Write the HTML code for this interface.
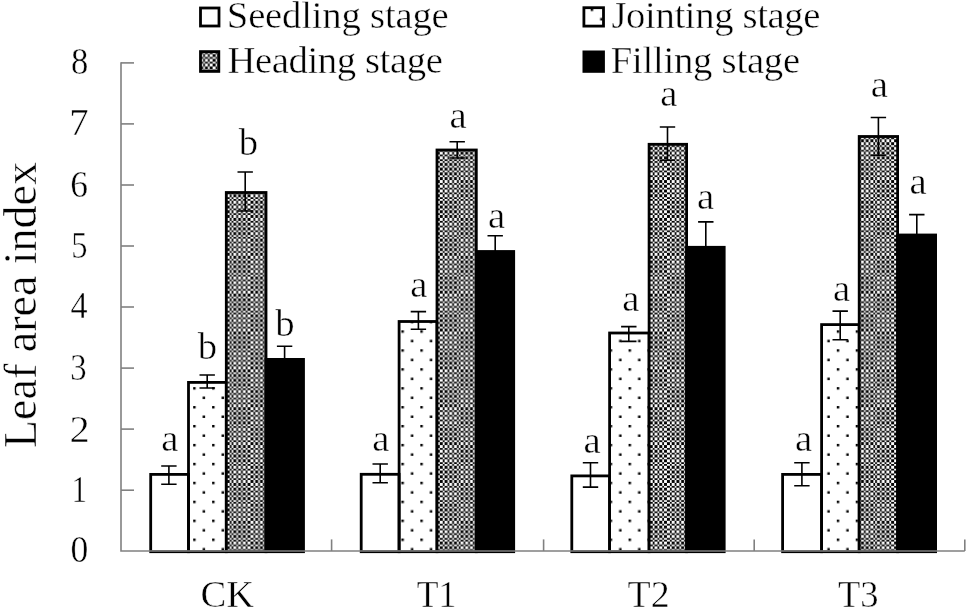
<!DOCTYPE html><html><head><meta charset="utf-8"><title>Leaf area index</title><style>
html,body{margin:0;padding:0;background:#fff;width:967px;height:610px;overflow:hidden}
svg{display:block;filter:blur(0.3px)}
text{font-family:"Liberation Serif","Times New Roman",serif;fill:#000;stroke:#fff;stroke-width:0.45px}
</style></head><body>
<svg width="967" height="610" viewBox="0 0 967 610">
<defs>
<pattern id="dots" patternUnits="userSpaceOnUse" x="3.88" y="8.52" width="18.93" height="18.93"><rect x="0" y="0" width="2.45" height="2.45" fill="#000"/><rect x="9.465" y="9.465" width="2.45" height="2.45" fill="#000"/></pattern>
<pattern id="checker" patternUnits="userSpaceOnUse" x="4.4" y="9.7" width="37.86" height="37.86"><rect width="37.86" height="37.86" fill="#000"/><g fill="#fff"><rect x="0.00" y="0.00" width="1.78" height="1.78"/><rect x="0.00" y="4.73" width="1.78" height="1.78"/><rect x="0.00" y="9.46" width="1.78" height="1.78"/><rect x="0.00" y="14.20" width="1.78" height="1.78"/><rect x="1.78" y="1.78" width="2.95" height="2.95"/><rect x="1.78" y="6.51" width="2.95" height="2.95"/><rect x="1.78" y="11.25" width="2.95" height="2.95"/><rect x="1.78" y="15.98" width="2.95" height="2.95"/><rect x="4.73" y="0.00" width="1.78" height="1.78"/><rect x="4.73" y="4.73" width="1.78" height="1.78"/><rect x="4.73" y="9.46" width="1.78" height="1.78"/><rect x="4.73" y="14.20" width="1.78" height="1.78"/><rect x="6.51" y="1.78" width="2.95" height="2.95"/><rect x="6.51" y="6.51" width="2.95" height="2.95"/><rect x="6.51" y="11.25" width="2.95" height="2.95"/><rect x="6.51" y="15.98" width="2.95" height="2.95"/><rect x="9.46" y="0.00" width="1.78" height="1.78"/><rect x="9.46" y="4.73" width="1.78" height="1.78"/><rect x="9.46" y="9.46" width="1.78" height="1.78"/><rect x="9.46" y="14.20" width="1.78" height="1.78"/><rect x="11.25" y="1.78" width="2.95" height="2.95"/><rect x="11.25" y="6.51" width="2.95" height="2.95"/><rect x="11.25" y="11.25" width="2.95" height="2.95"/><rect x="11.25" y="15.98" width="2.95" height="2.95"/><rect x="14.20" y="0.00" width="1.78" height="1.78"/><rect x="14.20" y="4.73" width="1.78" height="1.78"/><rect x="14.20" y="9.46" width="1.78" height="1.78"/><rect x="14.20" y="14.20" width="1.78" height="1.78"/><rect x="15.98" y="1.78" width="2.95" height="2.95"/><rect x="15.98" y="6.51" width="2.95" height="2.95"/><rect x="15.98" y="11.25" width="2.95" height="2.95"/><rect x="15.98" y="15.98" width="2.95" height="2.95"/><rect x="0.00" y="18.93" width="1.78" height="2.95"/><rect x="0.00" y="23.66" width="1.78" height="2.95"/><rect x="0.00" y="28.39" width="1.78" height="2.95"/><rect x="0.00" y="33.13" width="1.78" height="2.95"/><rect x="1.78" y="21.88" width="2.95" height="1.78"/><rect x="1.78" y="26.61" width="2.95" height="1.78"/><rect x="1.78" y="31.34" width="2.95" height="1.78"/><rect x="1.78" y="36.08" width="2.95" height="1.78"/><rect x="4.73" y="18.93" width="1.78" height="2.95"/><rect x="4.73" y="23.66" width="1.78" height="2.95"/><rect x="4.73" y="28.39" width="1.78" height="2.95"/><rect x="4.73" y="33.13" width="1.78" height="2.95"/><rect x="6.51" y="21.88" width="2.95" height="1.78"/><rect x="6.51" y="26.61" width="2.95" height="1.78"/><rect x="6.51" y="31.34" width="2.95" height="1.78"/><rect x="6.51" y="36.08" width="2.95" height="1.78"/><rect x="9.46" y="18.93" width="1.78" height="2.95"/><rect x="9.46" y="23.66" width="1.78" height="2.95"/><rect x="9.46" y="28.39" width="1.78" height="2.95"/><rect x="9.46" y="33.13" width="1.78" height="2.95"/><rect x="11.25" y="21.88" width="2.95" height="1.78"/><rect x="11.25" y="26.61" width="2.95" height="1.78"/><rect x="11.25" y="31.34" width="2.95" height="1.78"/><rect x="11.25" y="36.08" width="2.95" height="1.78"/><rect x="14.20" y="18.93" width="1.78" height="2.95"/><rect x="14.20" y="23.66" width="1.78" height="2.95"/><rect x="14.20" y="28.39" width="1.78" height="2.95"/><rect x="14.20" y="33.13" width="1.78" height="2.95"/><rect x="15.98" y="21.88" width="2.95" height="1.78"/><rect x="15.98" y="26.61" width="2.95" height="1.78"/><rect x="15.98" y="31.34" width="2.95" height="1.78"/><rect x="15.98" y="36.08" width="2.95" height="1.78"/><rect x="18.93" y="0.00" width="2.95" height="1.78"/><rect x="18.93" y="4.73" width="2.95" height="1.78"/><rect x="18.93" y="9.46" width="2.95" height="1.78"/><rect x="18.93" y="14.20" width="2.95" height="1.78"/><rect x="21.88" y="1.78" width="1.78" height="2.95"/><rect x="21.88" y="6.51" width="1.78" height="2.95"/><rect x="21.88" y="11.25" width="1.78" height="2.95"/><rect x="21.88" y="15.98" width="1.78" height="2.95"/><rect x="23.66" y="0.00" width="2.95" height="1.78"/><rect x="23.66" y="4.73" width="2.95" height="1.78"/><rect x="23.66" y="9.46" width="2.95" height="1.78"/><rect x="23.66" y="14.20" width="2.95" height="1.78"/><rect x="26.61" y="1.78" width="1.78" height="2.95"/><rect x="26.61" y="6.51" width="1.78" height="2.95"/><rect x="26.61" y="11.25" width="1.78" height="2.95"/><rect x="26.61" y="15.98" width="1.78" height="2.95"/><rect x="28.39" y="0.00" width="2.95" height="1.78"/><rect x="28.39" y="4.73" width="2.95" height="1.78"/><rect x="28.39" y="9.46" width="2.95" height="1.78"/><rect x="28.39" y="14.20" width="2.95" height="1.78"/><rect x="31.34" y="1.78" width="1.78" height="2.95"/><rect x="31.34" y="6.51" width="1.78" height="2.95"/><rect x="31.34" y="11.25" width="1.78" height="2.95"/><rect x="31.34" y="15.98" width="1.78" height="2.95"/><rect x="33.13" y="0.00" width="2.95" height="1.78"/><rect x="33.13" y="4.73" width="2.95" height="1.78"/><rect x="33.13" y="9.46" width="2.95" height="1.78"/><rect x="33.13" y="14.20" width="2.95" height="1.78"/><rect x="36.08" y="1.78" width="1.78" height="2.95"/><rect x="36.08" y="6.51" width="1.78" height="2.95"/><rect x="36.08" y="11.25" width="1.78" height="2.95"/><rect x="36.08" y="15.98" width="1.78" height="2.95"/><rect x="18.93" y="18.93" width="2.95" height="2.95"/><rect x="18.93" y="23.66" width="2.95" height="2.95"/><rect x="18.93" y="28.39" width="2.95" height="2.95"/><rect x="18.93" y="33.13" width="2.95" height="2.95"/><rect x="21.88" y="21.88" width="1.78" height="1.78"/><rect x="21.88" y="26.61" width="1.78" height="1.78"/><rect x="21.88" y="31.34" width="1.78" height="1.78"/><rect x="21.88" y="36.08" width="1.78" height="1.78"/><rect x="23.66" y="18.93" width="2.95" height="2.95"/><rect x="23.66" y="23.66" width="2.95" height="2.95"/><rect x="23.66" y="28.39" width="2.95" height="2.95"/><rect x="23.66" y="33.13" width="2.95" height="2.95"/><rect x="26.61" y="21.88" width="1.78" height="1.78"/><rect x="26.61" y="26.61" width="1.78" height="1.78"/><rect x="26.61" y="31.34" width="1.78" height="1.78"/><rect x="26.61" y="36.08" width="1.78" height="1.78"/><rect x="28.39" y="18.93" width="2.95" height="2.95"/><rect x="28.39" y="23.66" width="2.95" height="2.95"/><rect x="28.39" y="28.39" width="2.95" height="2.95"/><rect x="28.39" y="33.13" width="2.95" height="2.95"/><rect x="31.34" y="21.88" width="1.78" height="1.78"/><rect x="31.34" y="26.61" width="1.78" height="1.78"/><rect x="31.34" y="31.34" width="1.78" height="1.78"/><rect x="31.34" y="36.08" width="1.78" height="1.78"/><rect x="33.13" y="18.93" width="2.95" height="2.95"/><rect x="33.13" y="23.66" width="2.95" height="2.95"/><rect x="33.13" y="28.39" width="2.95" height="2.95"/><rect x="33.13" y="33.13" width="2.95" height="2.95"/><rect x="36.08" y="21.88" width="1.78" height="1.78"/><rect x="36.08" y="26.61" width="1.78" height="1.78"/><rect x="36.08" y="31.34" width="1.78" height="1.78"/><rect x="36.08" y="36.08" width="1.78" height="1.78"/></g></pattern>
</defs>
<rect width="967" height="610" fill="#fff"/>
<text transform="translate(70.54 561.78) scale(0.921 1)" font-size="38.7">0</text>
<text transform="translate(71.38 501.63) scale(0.800 1)" font-size="38.7">1</text>
<text transform="translate(69.42 441.61) scale(1.044 1)" font-size="38.7">2</text>
<text transform="translate(70.14 380.12) scale(0.844 1)" font-size="38.7">3</text>
<text transform="translate(70.43 317.88) scale(0.884 1)" font-size="38.7">4</text>
<text transform="translate(71.21 258.08) scale(0.840 1)" font-size="38.7">5</text>
<text transform="translate(70.27 196.52) scale(0.919 1)" font-size="38.7">6</text>
<text transform="translate(69.25 134.97) scale(1.001 1)" font-size="38.7">7</text>
<text transform="translate(70.98 74.38) scale(0.896 1)" font-size="38.7">8</text>
<rect x="150.70" y="474.40" width="37.80" height="77.30" fill="#fff" stroke="#000" stroke-width="2.8"/>
<rect x="188.50" y="382.40" width="37.80" height="169.30" fill="url(#dots)" stroke="#000" stroke-width="2.8"/>
<rect x="226.30" y="192.50" width="39.70" height="359.20" fill="url(#checker)" stroke="#000" stroke-width="2.8"/>
<rect x="266.00" y="359.40" width="37.50" height="192.30" fill="#000" stroke="#000" stroke-width="2.8"/>
<rect x="361.20" y="474.30" width="37.90" height="77.40" fill="#fff" stroke="#000" stroke-width="2.8"/>
<rect x="399.10" y="321.50" width="37.90" height="230.20" fill="url(#dots)" stroke="#000" stroke-width="2.8"/>
<rect x="437.00" y="150.00" width="39.30" height="401.70" fill="url(#checker)" stroke="#000" stroke-width="2.8"/>
<rect x="476.30" y="251.50" width="37.40" height="300.20" fill="#000" stroke="#000" stroke-width="2.8"/>
<rect x="571.80" y="475.90" width="37.80" height="75.80" fill="#fff" stroke="#000" stroke-width="2.8"/>
<rect x="609.60" y="333.00" width="39.50" height="218.70" fill="url(#dots)" stroke="#000" stroke-width="2.8"/>
<rect x="649.10" y="144.30" width="37.50" height="407.40" fill="url(#checker)" stroke="#000" stroke-width="2.8"/>
<rect x="686.60" y="247.30" width="37.60" height="304.40" fill="#000" stroke="#000" stroke-width="2.8"/>
<rect x="782.60" y="474.40" width="39.00" height="77.30" fill="#fff" stroke="#000" stroke-width="2.8"/>
<rect x="821.60" y="324.60" width="37.60" height="227.10" fill="url(#dots)" stroke="#000" stroke-width="2.8"/>
<rect x="859.20" y="136.50" width="38.40" height="415.20" fill="url(#checker)" stroke="#000" stroke-width="2.8"/>
<rect x="897.60" y="235.00" width="38.00" height="316.70" fill="#000" stroke="#000" stroke-width="2.8"/>
<g stroke="#000" stroke-width="1.6" fill="none">
<path d="M168.9 466 V484.3 M161.2 466 H176.6 M161.2 484.3 H176.6"/>
<path d="M207.2 375 V388 M199.5 375 H214.9 M199.5 388 H214.9"/>
<path d="M245.2 172 V211 M237.5 172 H252.9 M237.5 211 H252.9"/>
<path d="M284.6 346.2 V372.6 M276.9 346.2 H292.3 M276.9 372.6 H292.3"/>
<path d="M380.2 464 V482.8 M372.5 464 H387.9 M372.5 482.8 H387.9"/>
<path d="M418.4 311.6 V329.3 M410.7 311.6 H426.1 M410.7 329.3 H426.1"/>
<path d="M457.2 141.8 V158 M449.5 141.8 H464.9 M449.5 158 H464.9"/>
<path d="M495.2 235.7 V267.3 M487.5 235.7 H502.9 M487.5 267.3 H502.9"/>
<path d="M590.5 462.8 V487.1 M582.8 462.8 H598.2 M582.8 487.1 H598.2"/>
<path d="M628.8 326.6 V341.4 M621.1 326.6 H636.5 M621.1 341.4 H636.5"/>
<path d="M667.5 127 V160.2 M659.8 127 H675.2 M659.8 160.2 H675.2"/>
<path d="M705.8 221.9 V272.7 M698.1 221.9 H713.5 M698.1 272.7 H713.5"/>
<path d="M801.9 462.8 V485.7 M794.2 462.8 H809.6 M794.2 485.7 H809.6"/>
<path d="M840.2 311.1 V339.7 M832.5 311.1 H847.9 M832.5 339.7 H847.9"/>
<path d="M878.4 117.5 V155.2 M870.7 117.5 H886.1 M870.7 155.2 H886.1"/>
<path d="M916.8 214.6 V255.4 M909.1 214.6 H924.5 M909.1 255.4 H924.5"/>
</g>
<g stroke="#808080" stroke-width="1.6" fill="none">
<path d="M121.0 62.15 V551.0 H964.8"/>
<path d="M121.0 490.2 H134"/>
<path d="M121.0 429.1 H134"/>
<path d="M121.0 368.1 H134"/>
<path d="M121.0 307.0 H134"/>
<path d="M121.0 246.0 H134"/>
<path d="M121.0 185.0 H134"/>
<path d="M121.0 123.9 H134"/>
<path d="M121.0 62.9 H134"/>
<path d="M331.6 551.0 V539.4"/>
<path d="M543.6 551.0 V539.4"/>
<path d="M754.2 551.0 V539.4"/>
<path d="M964.8 551.0 V539.4"/>
</g>
<text x="169.9" y="451.2" font-size="38.7" text-anchor="middle">a</text>
<text x="207.5" y="358.7" font-size="38.7" text-anchor="middle">b</text>
<text x="248.4" y="154.6" font-size="38.7" text-anchor="middle">b</text>
<text x="284.9" y="336.4" font-size="38.7" text-anchor="middle">b</text>
<text x="380.9" y="451.3" font-size="38.7" text-anchor="middle">a</text>
<text x="418.9" y="296.8" font-size="38.7" text-anchor="middle">a</text>
<text x="458.2" y="128.2" font-size="38.7" text-anchor="middle">a</text>
<text x="496.5" y="228.3" font-size="38.7" text-anchor="middle">a</text>
<text x="592.0" y="452.9" font-size="38.7" text-anchor="middle">a</text>
<text x="630.9" y="310.5" font-size="38.7" text-anchor="middle">a</text>
<text x="668.8" y="106.0" font-size="38.7" text-anchor="middle">a</text>
<text x="705.6" y="209.0" font-size="38.7" text-anchor="middle">a</text>
<text x="803.6" y="451.3" font-size="38.7" text-anchor="middle">a</text>
<text x="841.6" y="300.9" font-size="38.7" text-anchor="middle">a</text>
<text x="879.4" y="97.4" font-size="38.7" text-anchor="middle">a</text>
<text x="918.1" y="193.8" font-size="38.7" text-anchor="middle">a</text>
<text x="200.42" y="607.40" font-size="38.7" textLength="53.68" lengthAdjust="spacingAndGlyphs">CK</text>
<text x="416.76" y="607.40" font-size="38.7" textLength="39.58" lengthAdjust="spacingAndGlyphs">T1</text>
<text x="627.52" y="607.40" font-size="38.7" textLength="42.07" lengthAdjust="spacingAndGlyphs">T2</text>
<text x="837.94" y="607.40" font-size="38.7" textLength="40.59" lengthAdjust="spacingAndGlyphs">T3</text>
<text transform="translate(35.8 305) rotate(-90)" font-size="46" text-anchor="middle">Leaf area index</text>
<rect x="200.5" y="8.0" width="18.5" height="18.0" fill="#fff" stroke="#000" stroke-width="2.8"/>
<rect x="200.5" y="51.6" width="18.3" height="19.8" fill="url(#checker)" stroke="#000" stroke-width="2.8"/>
<rect x="583.9" y="7.7" width="19.6" height="18.4" fill="url(#dots)" stroke="#000" stroke-width="2.8"/>
<rect x="583.9" y="51.9" width="19.6" height="19.5" fill="#000" stroke="#000" stroke-width="2.8"/>
<text x="226.8" y="28.4" font-size="38.7" textLength="221.9" lengthAdjust="spacing">Seedling stage</text>
<text x="227.4" y="72.6" font-size="38.7" textLength="215.4" lengthAdjust="spacing">Heading stage</text>
<text x="611.4" y="28.4" font-size="38.7" textLength="209.1" lengthAdjust="spacing">Jointing stage</text>
<text x="610.7" y="72.6" font-size="38.7" textLength="189.4" lengthAdjust="spacing">Filling stage</text>
</svg></body></html>
